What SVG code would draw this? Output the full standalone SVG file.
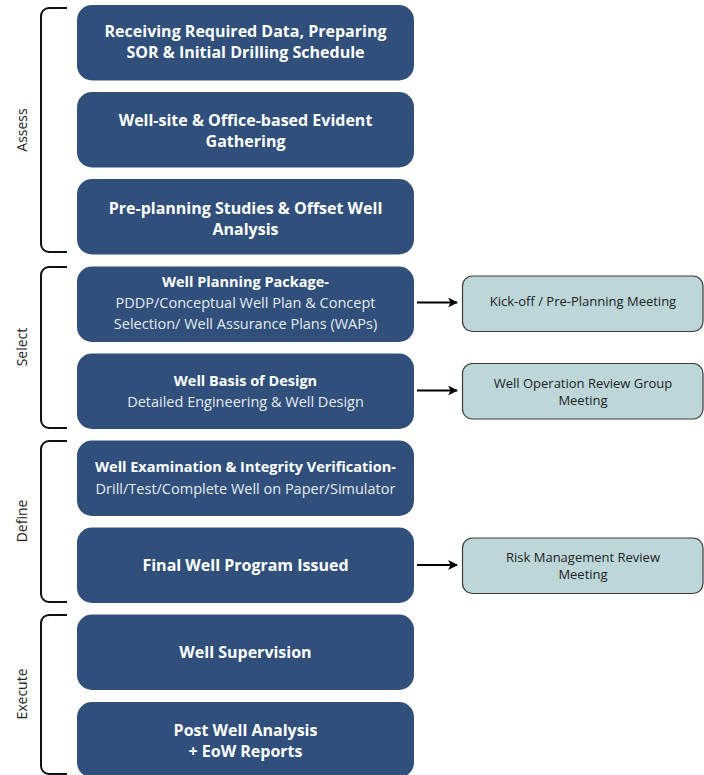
<svg xmlns="http://www.w3.org/2000/svg" width="704" height="775" viewBox="0 0 704 775">
  <style>
    .step { fill: #304f7b; }
    .meet { fill: #bdd6da; stroke: #3a3a3a; stroke-width: 1.2; }
    .brace { fill: none; stroke: #111; stroke-width: 2; }
    .phase { font-family: "Open Sans", "DejaVu Sans", sans-serif; font-size: 14px; fill: #222; text-anchor: middle; }
    .hd { font-family: "Open Sans", "Noto Sans", sans-serif; font-weight: 700; font-size: 16px; fill: #ffffff; text-anchor: middle; }
    .hs { font-family: "Open Sans", "Noto Sans", sans-serif; font-weight: 700; font-size: 14.5px; fill: #ffffff; text-anchor: middle; }
    .sub { font-family: "Open Sans", "Noto Sans", sans-serif; font-size: 14.5px; fill: #e6ebf2; text-anchor: middle; }
    .mt { font-family: "Open Sans", "Noto Sans", sans-serif; font-size: 13px; fill: #222; text-anchor: middle; }
    .link { stroke: #000; stroke-width: 2.2; fill: none; marker-end: url(#head); }
  </style>
  <defs>
    <marker id="head" viewBox="0 0 10 10" refX="9" refY="5" markerWidth="4.5" markerHeight="4.5" orient="auto" markerUnits="strokeWidth">
      <path d="M0,0 L10,5 L0,10 L2.5,5 Z" fill="#000"/>
    </marker>
  </defs>

  <rect width="704" height="775" fill="#ffffff"/>

  <!-- phase brackets -->
  <g id="phase-assess">
    <path class="brace" d="M67,8 H49 A8,8 0 0 0 41,16 V244 A8,8 0 0 0 49,252 H67"/>
    <text class="phase" transform="translate(27,130) rotate(-90)">Assess</text>
  </g>
  <g id="phase-select">
    <path class="brace" d="M67,267 H49 A8,8 0 0 0 41,275 V420 A8,8 0 0 0 49,428 H67"/>
    <text class="phase" transform="translate(27,347) rotate(-90)">Select</text>
  </g>
  <g id="phase-define">
    <path class="brace" d="M67,441 H49 A8,8 0 0 0 41,449 V594 A8,8 0 0 0 49,602 H67"/>
    <text class="phase" transform="translate(27,521) rotate(-90)">Define</text>
  </g>
  <g id="phase-execute">
    <path class="brace" d="M67,615 H49 A8,8 0 0 0 41,623 V766 A8,8 0 0 0 49,774 H67"/>
    <text class="phase" transform="translate(27,694) rotate(-90)">Execute</text>
  </g>

  <!-- process steps -->
  <g id="step-1">
    <rect class="step" x="77" y="5" width="337" height="75.5" rx="15"/>
    <text class="hd" x="245.5" y="37">Receiving Required Data, Preparing</text>
    <text class="hd" x="245.5" y="58">SOR &amp; Initial Drilling Schedule</text>
  </g>
  <g id="step-2">
    <rect class="step" x="77" y="92" width="337" height="75.5" rx="15"/>
    <text class="hd" x="245.5" y="126">Well-site &amp; Office-based Evident</text>
    <text class="hd" x="245.5" y="147">Gathering</text>
  </g>
  <g id="step-3">
    <rect class="step" x="77" y="179" width="337" height="75.5" rx="15"/>
    <text class="hd" x="245.5" y="214">Pre-planning Studies &amp; Offset Well</text>
    <text class="hd" x="245.5" y="235">Analysis</text>
  </g>
  <g id="step-4">
    <rect class="step" x="77" y="266.5" width="337" height="75.5" rx="15"/>
    <text class="hs" x="245.5" y="287">Well Planning Package-</text>
    <text class="sub" x="245.5" y="307.5">PDDP/Conceptual Well Plan &amp; Concept</text>
    <text class="sub" x="245.5" y="329">Selection/ Well Assurance Plans (WAPs)</text>
  </g>
  <g id="step-5">
    <rect class="step" x="77" y="353.5" width="337" height="75.5" rx="15"/>
    <text class="hs" x="245.5" y="386">Well Basis of Design</text>
    <text class="sub" x="245.5" y="407">Detailed Engineering &amp; Well Design</text>
  </g>
  <g id="step-6">
    <rect class="step" x="77" y="440.5" width="337" height="75.5" rx="15"/>
    <text class="hs" x="245.5" y="472">Well Examination &amp; Integrity Verification-</text>
    <text class="sub" x="245.5" y="494">Drill/Test/Complete Well on Paper/Simulator</text>
  </g>
  <g id="step-7">
    <rect class="step" x="77" y="527.5" width="337" height="75.5" rx="15"/>
    <text class="hd" x="245.5" y="571">Final Well Program Issued</text>
  </g>
  <g id="step-8">
    <rect class="step" x="77" y="614.5" width="337" height="75.5" rx="15"/>
    <text class="hd" x="245.5" y="658">Well Supervision</text>
  </g>
  <g id="step-9">
    <rect class="step" x="77" y="702" width="337" height="75.5" rx="15"/>
    <text class="hd" x="245.5" y="736">Post Well Analysis</text>
    <text class="hd" x="245.5" y="757">+ EoW Reports</text>
  </g>

  <!-- review meetings -->
  <g id="meeting-kickoff">
    <rect class="meet" x="462.5" y="276" width="240.5" height="55.5" rx="10"/>
    <text class="mt" x="583" y="306">Kick-off / Pre-Planning Meeting</text>
  </g>
  <g id="meeting-worg">
    <rect class="meet" x="462.5" y="363.5" width="240.5" height="55.5" rx="10"/>
    <text class="mt" x="583" y="387.5">Well Operation Review Group</text>
    <text class="mt" x="583" y="404.5">Meeting</text>
  </g>
  <g id="meeting-risk">
    <rect class="meet" x="462.5" y="538" width="240.5" height="55.5" rx="10"/>
    <text class="mt" x="583" y="561.5">Risk Management Review</text>
    <text class="mt" x="583" y="578.5">Meeting</text>
  </g>

  <!-- connectors -->
  <g id="connectors">
    <line class="link" x1="417" y1="302.5" x2="457" y2="302.5"/>
    <line class="link" x1="417" y1="390.5" x2="457" y2="390.5"/>
    <line class="link" x1="417" y1="565" x2="457" y2="565"/>
  </g>
</svg>
